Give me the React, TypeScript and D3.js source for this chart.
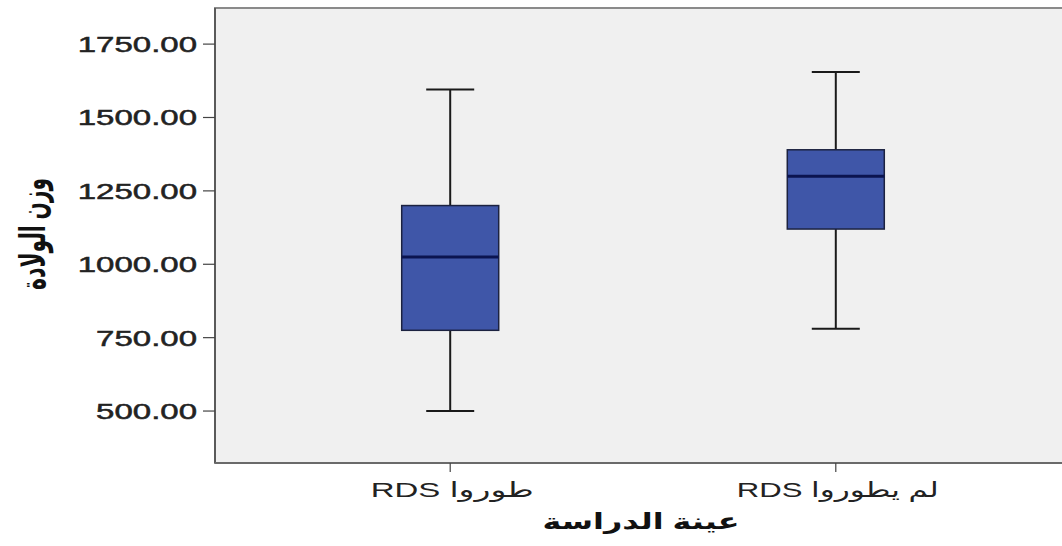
import React from "react";
import * as d3 from "d3";

const categories = ["طوروا RDS", "لم يطوروا RDS"];
const mins = [500, 780];
const q1s = [775, 1120];
const medians = [1025, 1300];
const q3s = [1200, 1390];
const maxs = [1595, 1655];
const yTicks = [500, 750, 1000, 1250, 1500, 1750];
const yTitle = "وزن الولادة";
const xTitle = "عينة الدراسة";

const W = 1062;
const H = 546;
const plotLeft = 215;
const plotRight = 1071;
const plotTop = 8;
const plotBottom = 463;
const FONT = "'Liberation Sans', 'DejaVu Sans', Arial, sans-serif";
const labelLengths = [163, 202];

export default function App() {
  const x = d3.scalePoint<string>().domain(categories).range([plotLeft, plotRight]).padding(0.61);
  const y = d3.scaleLinear().domain([323, 1873]).range([plotBottom, plotTop]);
  const boxW = 97;
  const capW = 48;

  return (
    <svg width={W} height={H} style={{ position: "absolute", left: 0, top: 0, background: "#fff" }}>
      <rect x={0} y={0} width={W} height={H} fill="#fff" />
      <rect x={plotLeft} y={plotTop} width={plotRight - plotLeft} height={plotBottom - plotTop} fill="#f0f0f0" stroke="#8a8a8a" strokeWidth={2} />
      <line x1={plotLeft} x2={plotLeft} y1={plotTop} y2={plotBottom} stroke="#5a5a5a" strokeWidth={2} />
      <line x1={plotLeft} x2={plotRight} y1={plotBottom} y2={plotBottom} stroke="#6a6a6a" strokeWidth={2} />
      {yTicks.map((t) => (
        <g key={t}>
          <line x1={plotLeft - 12} x2={plotLeft} y1={y(t)} y2={y(t)} stroke="#444" strokeWidth={1.2} />
          <text transform={`translate(197,${y(t)}) scale(1.5,1)`} textAnchor="end" dy="0.36em" fontSize={22} fontFamily={FONT} fill="#222" stroke="#222" strokeWidth={0.5}>
            {d3.format(".2f")(t)}
          </text>
        </g>
      ))}
      {categories.map((c, i) => {
        const cx = x(c) as number;
        return (
          <g key={c}>
            <line x1={cx} x2={cx} y1={plotBottom} y2={plotBottom + 9} stroke="#444" strokeWidth={1.2} />
            <line x1={cx} x2={cx} y1={y(maxs[i])} y2={y(q3s[i])} stroke="#1a1a1a" strokeWidth={2} />
            <line x1={cx} x2={cx} y1={y(q1s[i])} y2={y(mins[i])} stroke="#1a1a1a" strokeWidth={2} />
            <line x1={cx - capW / 2} x2={cx + capW / 2} y1={y(maxs[i])} y2={y(maxs[i])} stroke="#1a1a1a" strokeWidth={2} />
            <line x1={cx - capW / 2} x2={cx + capW / 2} y1={y(mins[i])} y2={y(mins[i])} stroke="#1a1a1a" strokeWidth={2} />
            <rect x={cx - boxW / 2} y={y(q3s[i])} width={boxW} height={y(q1s[i]) - y(q3s[i])} fill="#3f56a8" stroke="#1c2240" strokeWidth={1.5} />
            <line x1={cx - boxW / 2} x2={cx + boxW / 2} y1={y(medians[i])} y2={y(medians[i])} stroke="#0b1450" strokeWidth={3} />
            <text x={cx + 2} y={497} direction="rtl" textAnchor="middle" fontSize={21} fontFamily={FONT} fill="#222" textLength={labelLengths[i]} lengthAdjust="spacingAndGlyphs">
              {c}
            </text>
          </g>
        );
      })}
      <text x={(plotLeft + plotRight) / 2 - 2} y={529} direction="rtl" textAnchor="middle" fontSize={22} fontWeight="bold" fontFamily={FONT} fill="#111" textLength={197} lengthAdjust="spacingAndGlyphs">
        {xTitle}
      </text>
      <text transform={`translate(45,234) scale(1.6,1) rotate(-90)`} direction="rtl" textAnchor="middle" fontSize={22} fontWeight="bold" fontFamily={FONT} fill="#111" textLength={112} lengthAdjust="spacingAndGlyphs">
        {yTitle}
      </text>
    </svg>
  );
}
